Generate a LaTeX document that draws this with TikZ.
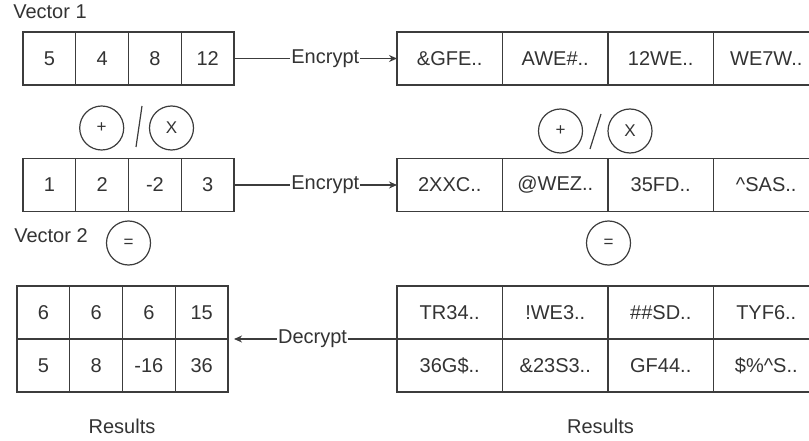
\documentclass[tikz,border=0pt]{standalone}
\usepackage{fontspec}
\setmainfont{Liberation Sans}
\usepackage{tikz}
\usetikzlibrary{arrows.meta,positioning}
\usepackage{xcolor}
\definecolor{textgray}{RGB}{51,51,51}
\definecolor{linegray}{RGB}{60,60,60}

\begin{document}
\begin{tikzpicture}[
  x=1pt, y=-1pt,
  cell/.style={draw=linegray,line width=1.2pt,
               minimum width=52.75pt,minimum height=53pt,
               inner sep=0pt,outer sep=0pt,
               text=textgray,font=\fontsize{20}{24}\selectfont},
  wide/.style={cell,minimum width=105.5pt},
  op/.style={circle,draw=linegray,line width=1.2pt,
             minimum size=44pt,inner sep=0pt,
             text=textgray,font=\fontsize{17}{20}\selectfont},
  lbl/.style={text=textgray,font=\fontsize{20}{24}\selectfont},
  arr/.style={-{Stealth[length=8pt,width=7pt]},line width=1.2pt,draw=linegray},
]
\useasboundingbox (0,0) rectangle (809,441);

%% Plain vectors (left)
\node[lbl] (vec1) at (50,12) {Vector 1};
\node[cell] (pa1) at (49.4,58.5) {5};
\node[cell,right=0pt of pa1] (pa2) {4};
\node[cell,right=0pt of pa2] (pa3) {8};
\node[cell,right=0pt of pa3] (pa4) {12};

\node[cell] (pb1) at (49.4,185) {1};
\node[cell,right=0pt of pb1] (pb2) {2};
\node[cell,right=0pt of pb2] (pb3) {-2};
\node[cell,right=0pt of pb3] (pb4) {3};
\node[lbl] (vec2) at (51,236) {Vector 2};

% Operators between plain vectors
\node[op] (addl) at (101.7,128) {+};
\node[op] (mull) at (171.5,128) {X};
\coordinate (sll1) at (136,147);
\coordinate (sll2) at (142,106);
\draw[draw=linegray,line width=1.2pt] (sll1) -- (sll2);
\node[op] (eql) at (128.5,243) {=};

%% Encrypted vectors (right)
\node[wide] (ca1) at (449.75,58.5) {\&GFE..};
\node[wide,right=0pt of ca1] (ca2) {AWE\#..};
\node[wide,right=0pt of ca2] (ca3) {12WE..};
\node[wide,right=0pt of ca3] (ca4) {WE7W..};

\node[wide] (cb1) at (449.75,185) {2XXC..};
\node[wide,right=0pt of cb1] (cb2) {@WEZ..};
\node[wide,right=0pt of cb2] (cb3) {35FD..};
\node[wide,right=0pt of cb3] (cb4) {\textasciicircum SAS..};

% Operators between encrypted vectors
\node[op] (addr) at (560.5,131) {+};
\node[op] (mulr) at (630,131) {X};
\coordinate (slr1) at (590,149);
\coordinate (slr2) at (601,114);
\draw[draw=linegray,line width=1.2pt] (slr1) -- (slr2);
\node[op] (eqr) at (608.5,243) {=};

%% Results, plain (left)
\node[cell] (ra1) at (43.4,312.5) {6};
\node[cell,right=0pt of ra1] (ra2) {6};
\node[cell,right=0pt of ra2] (ra3) {6};
\node[cell,right=0pt of ra3] (ra4) {15};
\node[cell,below=0pt of ra1] (rb1) {5};
\node[cell,right=0pt of rb1] (rb2) {8};
\node[cell,right=0pt of rb2] (rb3) {-16};
\node[cell,right=0pt of rb3] (rb4) {36};
\node[lbl] (resl) at (122,426) {Results};

%% Results, encrypted (right)
\node[wide] (sa1) at (449.75,312.5) {TR34..};
\node[wide,right=0pt of sa1] (sa2) {!WE3..};
\node[wide,right=0pt of sa2] (sa3) {\#\#SD..};
\node[wide,right=0pt of sa3] (sa4) {TYF6..};
\node[wide,below=0pt of sa1] (sb1) {36G\$..};
\node[wide,right=0pt of sb1] (sb2) {\&23S3..};
\node[wide,right=0pt of sb2] (sb3) {GF44..};
\node[wide,right=0pt of sb3] (sb4) {\$\%\textasciicircum S..};
\node[lbl] (resr) at (600.5,426) {Results};

% Arrows
\draw[arr] (pa4) -- node[lbl,fill=white,inner sep=1pt,pos=0.56]{Encrypt} (ca1);
\draw[arr] (pb4) -- node[lbl,fill=white,inner sep=1pt,pos=0.56]{Encrypt} (cb1);
\draw[arr,shorten >=6pt] (sa1.south west)
    -- node[lbl,fill=white,inner sep=1pt]{Decrypt} (ra4.south east);

\end{tikzpicture}
\end{document}
